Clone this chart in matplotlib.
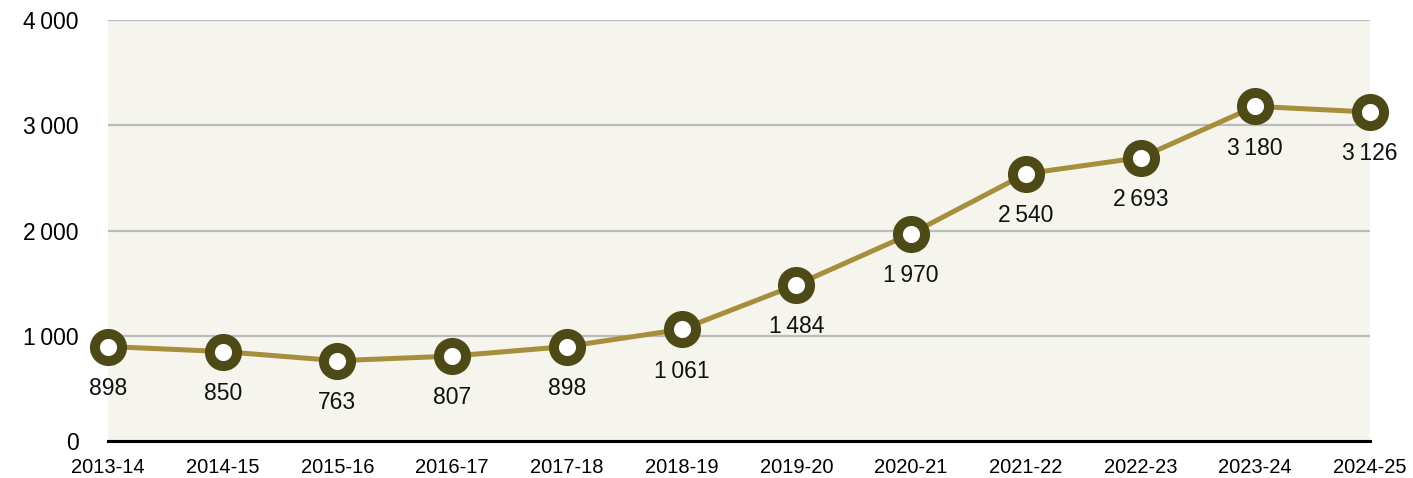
import matplotlib.pyplot as plt
import numpy as np

years = ["2013-14", "2014-15", "2015-16", "2016-17", "2017-18", "2018-19",
         "2019-20", "2020-21", "2021-22", "2022-23", "2023-24", "2024-25"]
values = [898, 850, 763, 807, 898, 1061, 1484, 1970, 2540, 2693, 3180, 3126]
yticks = [0, 1000, 2000, 3000, 4000]

def fmt(v):
    # thousands with a thin space
    s = "{:,}".format(v)
    return s.replace(",", "\u2009")

plt.rcParams['font.family'] = ['Liberation Sans', 'DejaVu Sans']

fig = plt.figure(figsize=(14.13, 4.78), dpi=100)
ax = fig.add_axes([0.0764, 0.0774, 0.8932, 0.8806])
ax.set_facecolor("#f5f4ed")

x = np.arange(len(years))
ax.plot(x, values, color="#a68e3c", linewidth=3.6, zorder=3, clip_on=False)
ax.plot(x, values, linestyle="none", marker="o", markersize=19.5,
        markerfacecolor="white", markeredgecolor="#4e4a17", markeredgewidth=7.2,
        zorder=4, clip_on=False)

for xi, v in zip(x, values):
    ax.annotate(fmt(v), (xi, v), xytext=(0, -30), textcoords="offset points",
                ha="center", va="center", fontsize=16.5, color="#111111")

ax.set_xlim(0, len(years) - 1)
ax.set_ylim(0, 4000)
ax.set_yticks(yticks)
ax.set_yticklabels([fmt(t) for t in yticks], fontsize=16.5)
ax.set_xticks(x)
ax.set_xticklabels(years, fontsize=14.5)
ax.tick_params(axis="both", length=0)
ax.tick_params(axis="y", pad=21)
ax.tick_params(axis="x", pad=12)

ax.grid(axis="y", color="#bcbcbc", linewidth=1.6, zorder=1)
ax.set_axisbelow(True)
for side in ["top", "right", "left"]:
    ax.spines[side].set_visible(False)
ax.spines["bottom"].set_color("black")
ax.spines["bottom"].set_linewidth(2.2)
ax.spines["bottom"].set_zorder(2)

plt.savefig("out.png", dpi=100)
